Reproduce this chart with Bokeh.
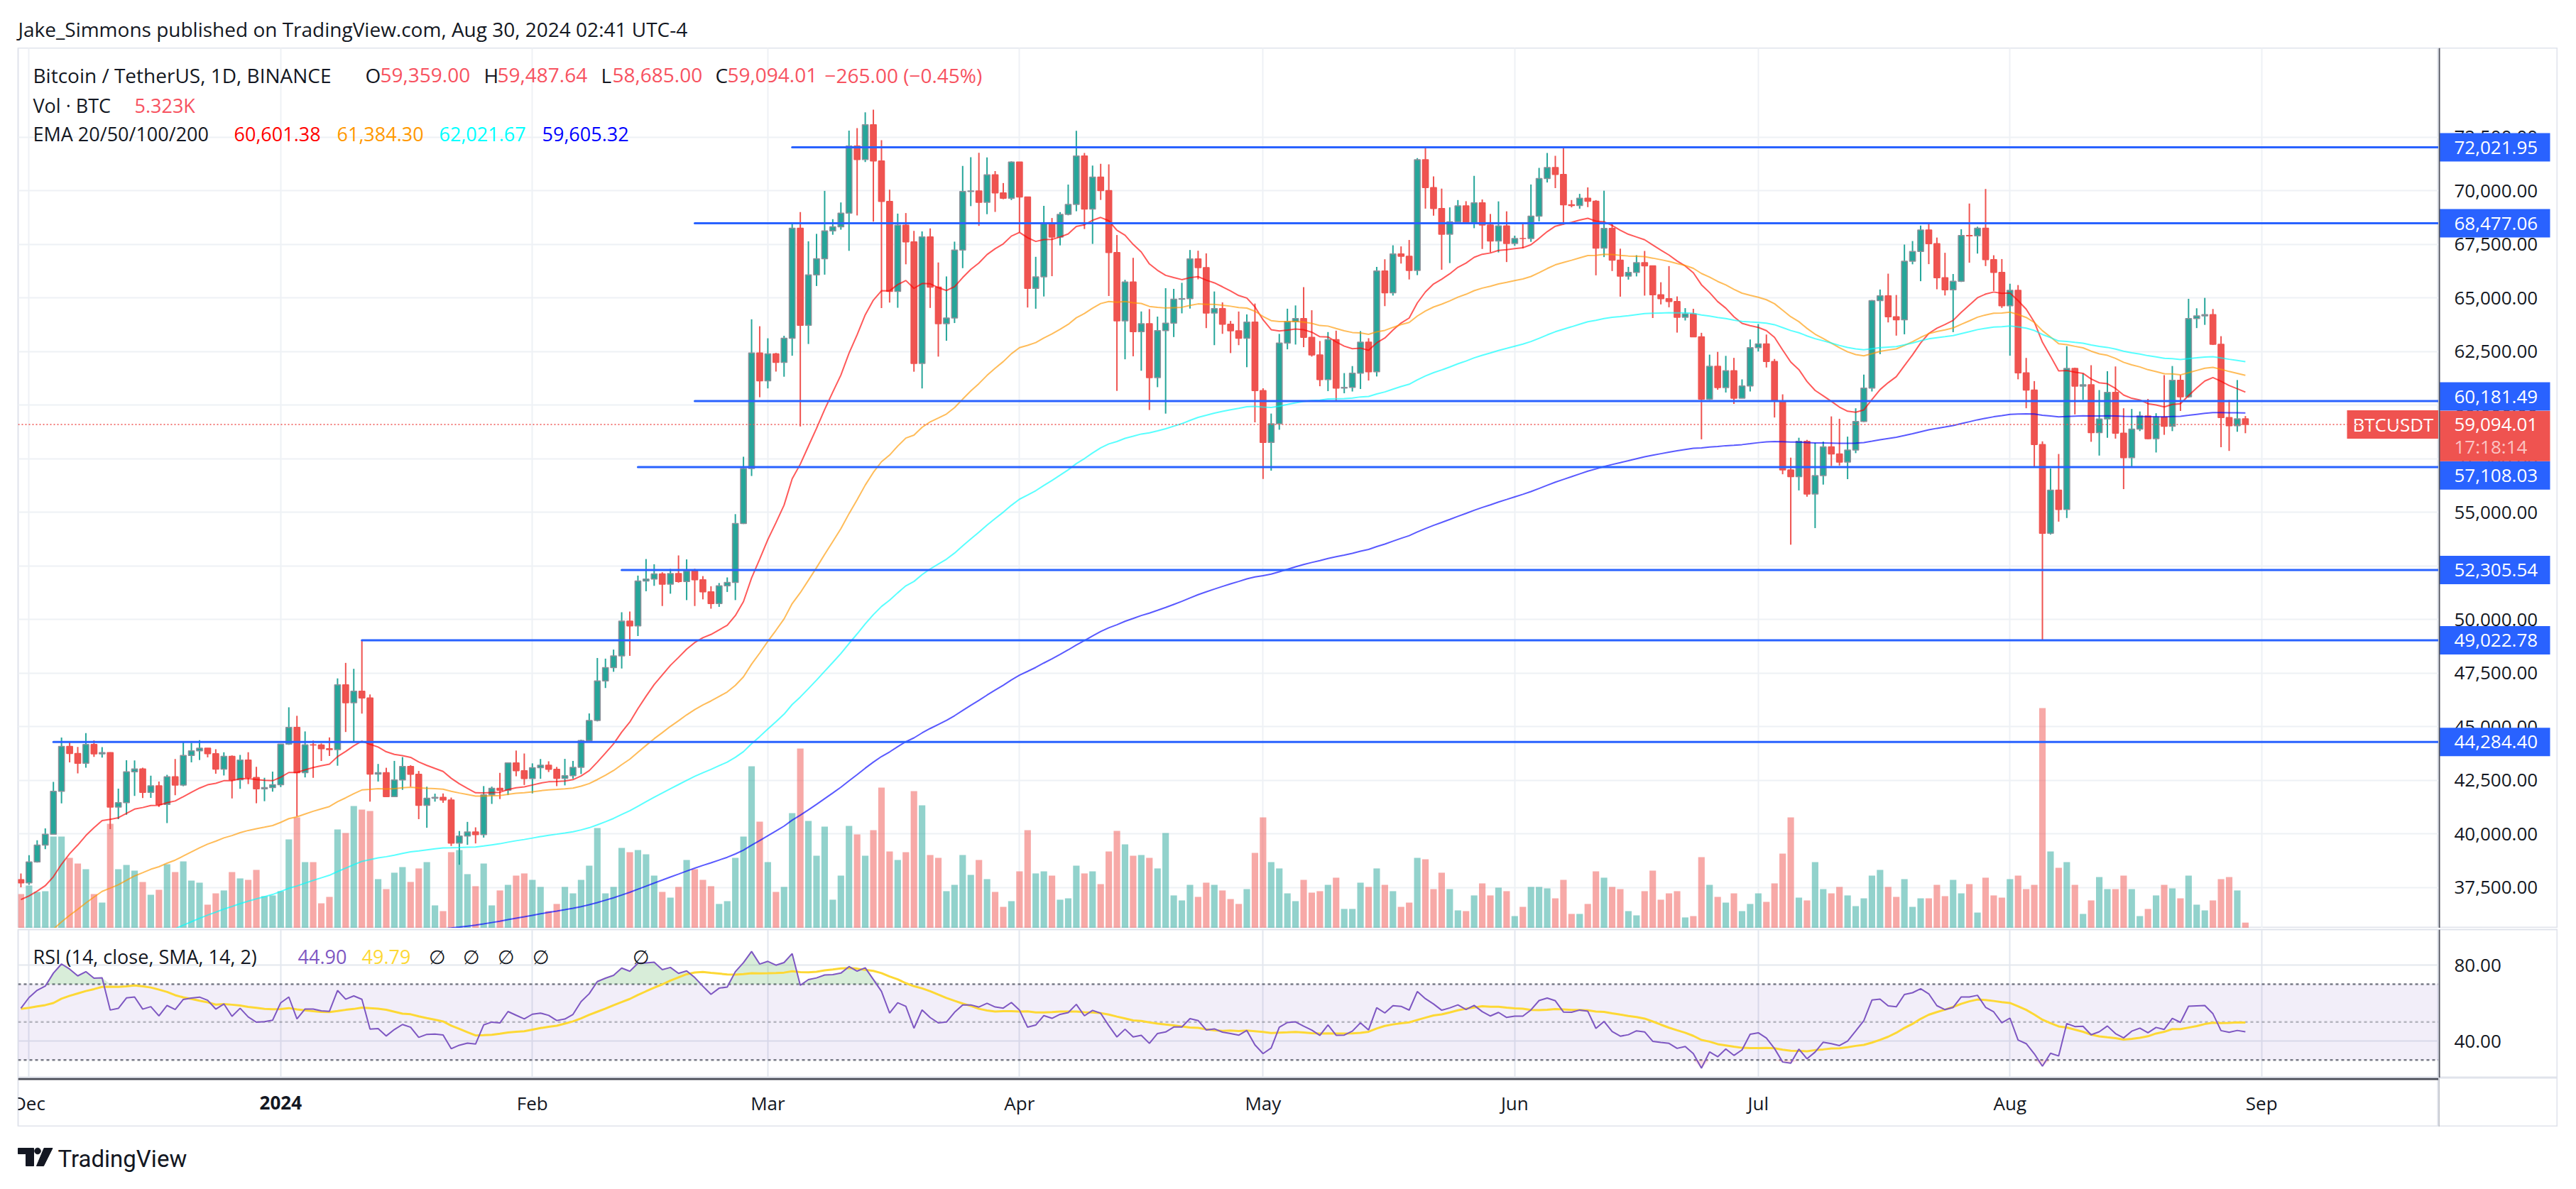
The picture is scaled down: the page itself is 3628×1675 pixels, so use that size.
import numpy as np
import pandas as pd
from bokeh.plotting import figure
from bokeh.models import (Range1d, FixedTicker, Label, Span, BoxAnnotation, ColumnDataSource)
from bokeh.layouts import column, row
from bokeh.embed import file_html
from bokeh.resources import INLINE
from bokeh.core.properties import value

# ----------------------------------------------------------------- data
first_date = "2023-11-30"
first_open = 37858.0

# closes 2023-11-01 .. 2023-11-29 (only used to warm up the indicators)
warmup_closes = [35421, 34941, 34720, 35077, 35048, 35044, 35419, 35625, 36702, 37311,
                 37131, 37064, 36462, 35552, 37858, 36164, 36596, 36568, 37360, 37448,
                 35756, 37420, 37289, 37721, 37796, 37479, 37254, 37832, 37858]

close = (
    [37712] +
    # Dec
    [38688, 39476, 39978, 41980, 44080, 43746, 43293, 44166, 43726, 43790, 41243, 41450, 42890,
     43023, 41929, 42240, 41365, 42658, 42271, 43652, 43869, 43997, 43739, 43016, 43613, 42520,
     43442, 42627, 42099, 42156, 42284] +
    # Jan
    [44180, 44965, 42849, 44151, 44145, 43968, 43929, 46951, 46110, 46653, 46339, 42782, 42847,
     41732, 42511, 43137, 42776, 41327, 41660, 41696, 41580, 39568, 39898, 40084, 39962, 41816,
     42120, 42031, 43302, 42941, 42580] +
    # Feb
    [43082, 43200, 43011, 42582, 42708, 43098, 44349, 45288, 47132, 47751, 48299, 49917, 49699,
     51795, 51880, 52124, 51642, 52138, 51765, 52258, 51849, 51289, 50744, 51569, 51729, 54477,
     57038, 62432, 61130] +
    # Mar
    [62387, 61987, 63113, 68245, 63724, 66074, 66823, 68124, 68313, 68956, 72078, 71452, 73072,
     71388, 69499, 65300, 68393, 67610, 61937, 67840, 65501, 63797, 64062, 67234, 69958, 69987,
     69455, 70744, 69892, 69645, 71333] +
    # Apr
    [69702, 65446, 65980, 68508, 67837, 68896, 69360, 71620, 69146, 70631, 70006, 67117, 63924,
     65739, 63420, 63793, 61277, 63470, 63818, 64941, 64960, 66819, 66414, 64289, 64499, 63770,
     63462, 63118, 63866, 60672] +
    # May
    [58254, 59123, 62889, 63891, 64031, 63161, 62334, 61187, 63049, 60793, 60825, 61484, 62936,
     61552, 66256, 65232, 67051, 66940, 66278, 71446, 70148, 69167, 67969, 68549, 69291, 68507,
     69436, 68398, 67652, 68352, 67540] +
    # Jun
    [67766, 67765, 68809, 70567, 71083, 70757, 69342, 69306, 69648, 69509, 67319, 68243, 66756,
     66012, 66191, 66639, 66491, 65140, 64960, 64828, 64096, 64252, 63180, 60277, 61804, 60811,
     61604, 60320, 60887, 62678] +
    # Jul
    [62851, 62029, 60173, 56977, 56662, 58303, 55849, 56705, 58050, 57720, 57340, 57900, 59231,
     60787, 64870, 65097, 64118, 63974, 66710, 67164, 68165, 67532, 65936, 65372, 65777, 67907,
     67896, 68249, 66784, 66188, 64628] +
    # Aug
    [65354, 61498, 60697, 58161, 54018, 56030, 55128, 61710, 60881, 60945, 58713, 59346, 60587,
     58683, 57541, 58874, 59491, 58427, 59438, 59013, 61157, 60381, 64037, 64157, 64220, 62834,
     59415, 59034, 59359, 59094.01]
)

high = (
    [38150] +
    [38999, 39700, 40250, 42420, 44488, 44300, 44050, 44700, 44358, 44040, 43801, 42104, 43434,
     43420, 43085, 42706, 42436, 42749, 43488, 44276, 44240, 44367, 43999, 43945, 43802, 43655,
     43677, 43804, 43124, 42612, 42899] +
    [44184, 45900, 45503, 44775, 44350, 44214, 44495, 47248, 47972, 47695, 49048, 46500, 43257,
     43079, 43400, 43578, 43198, 42930, 42196, 41872, 41881, 41689, 40129, 40555, 40300, 42225,
     42200, 42842, 43305, 43882, 43745] +
    [43285, 43488, 43381, 43119, 43494, 43399, 44389, 45614, 48200, 48170, 48592, 50334, 50368,
     52043, 52816, 52572, 52200, 52356, 52985, 52800, 52366, 52020, 51548, 51698, 51958, 54910,
     57588, 64000, 63676] +
    [63114, 62433, 63230, 68499, 69000, 67637, 67985, 69990, 68670, 69450, 72800, 72916, 73650,
     73777, 72358, 70046, 68930, 68956, 68124, 68100, 68240, 66650, 65999, 67622, 71150, 71561,
     71769, 71552, 70916, 70355, 71366] +
    [71338, 69708, 66914, 69291, 68725, 69000, 70284, 72797, 71758, 71172, 71256, 71227, 67931,
     65840, 66867, 64365, 64475, 64125, 65450, 65419, 65700, 67233, 67199, 67075, 65297, 64789,
     63923, 64362, 64228, 64734] +
    [60780, 59602, 63320, 64494, 64646, 65500, 64422, 62986, 63404, 63469, 61490, 61818, 63450,
     63118, 66444, 66800, 67451, 67400, 67700, 71515, 71980, 70666, 70096, 69220, 69562, 69509,
     70687, 69591, 68913, 69500, 69036] +
    [67900, 68450, 70288, 71063, 71758, 71625, 71997, 69563, 69850, 70152, 69560, 69999, 68449,
     67294, 66445, 66990, 67188, 66500, 65727, 66482, 65066, 64520, 64491, 63369, 62350, 62480,
     62293, 62200, 61197, 63058] +
    [63777, 63289, 62148, 60499, 57546, 58475, 58376, 58236, 58296, 59470, 59359, 58526, 59850,
     61420, 64900, 65388, 66128, 65133, 67487, 67650, 68372, 68480, 67813, 67102, 66112, 68200,
     69399, 68318, 70079, 66987, 66810] +
    [65659, 65596, 62198, 61117, 58305, 57040, 57717, 62745, 61745, 61470, 61858, 60699, 61578,
     61800, 59849, 59817, 59700, 60284, 59617, 61396, 61820, 61400, 64955, 64513, 64999, 64480,
     63212, 60235, 61166, 59487.64]
)

low = (
    [37500] +
    [37615, 38650, 39280, 39978, 41420, 43330, 42821, 43081, 43584, 43554, 40222, 40680, 40889,
     41767, 41666, 41676, 41250, 40500, 41800, 42219, 43333, 43441, 43566, 42802, 42720, 41649,
     42098, 42318, 41424, 41520, 41965] +
    [42180, 44148, 40813, 42630, 42610, 43397, 43630, 43175, 44748, 44300, 45606, 41500, 42436,
     41720, 41718, 42050, 42200, 40683, 40280, 41500, 41446, 39431, 38555, 39484, 39550, 39823,
     41394, 41620, 41804, 42683, 42276] +
    [41884, 42566, 42880, 42222, 42258, 42574, 42788, 44331, 45242, 46800, 47557, 47710, 48300,
     49225, 51314, 51566, 50625, 51200, 51715, 50900, 50625, 50935, 50500, 50585, 51280, 50901,
     54450, 56690, 60364] +
    [60777, 61561, 61321, 62300, 59005, 62848, 65553, 66082, 67944, 68180, 67194, 68845, 71334,
     68555, 64524, 64780, 64538, 66565, 61555, 60775, 64529, 62260, 63000, 63825, 66385, 69280,
     68359, 68903, 69009, 69601, 69562] +
    [68062, 64550, 64493, 65064, 66011, 67447, 68851, 69040, 68210, 67518, 69567, 65086, 60660,
     62134, 62274, 61600, 59768, 60833, 59600, 63172, 64277, 64500, 65864, 63589, 62794, 63322,
     62424, 62793, 61765, 59191] +
    [56552, 56937, 58848, 62599, 62822, 62700, 62261, 60877, 60648, 60187, 60550, 60632, 60749,
     61143, 61333, 64614, 65107, 66600, 65858, 66060, 69162, 68833, 66312, 66622, 68515, 68488,
     68250, 67280, 67120, 67118, 66670] +
    [67428, 67315, 67612, 68567, 70383, 70119, 68420, 69222, 69160, 69232, 66051, 66902, 66251,
     65056, 65850, 66000, 65104, 64060, 64694, 64560, 63379, 63944, 63180, 58402, 60239, 60712,
     60585, 60052, 60361, 60632] +
    [62495, 61752, 59419, 56771, 53485, 56018, 55723, 54260, 56289, 57157, 57178, 56542, 57756,
     59208, 60632, 62373, 63854, 63238, 63300, 66565, 65777, 66573, 65400, 65111, 63400, 65738,
     66640, 67066, 66482, 65323, 64530] +
    [62302, 61200, 59850, 57122, 49000, 53962, 54561, 54730, 59562, 60242, 58286, 57642, 58472,
     58433, 56078, 57098, 58785, 58408, 57787, 58610, 58783, 59724, 60342, 63590, 63740, 62800,
     58034, 57860, 58753, 58685.00]
)

# volume, thousands of BTC
volume_k = (
    [32.8] +
    [41.0, 34.9, 35.6, 88.2, 88.2, 67.7, 62.2, 56.8, 32.8, 24.6, 100.5, 56.8, 60.9, 55.4, 44.5,
     32.1, 36.9, 61.6, 54.0, 64.3, 45.8, 43.8, 22.6, 33.5, 36.3, 54.0, 47.9, 46.5, 56.1, 30.8, 31.5] +
    [35.6, 85.5, 106.7, 63.6, 63.6, 23.9, 30.1, 95.1, 91.7, 117.6, 114.2, 112.9, 47.2, 37.6, 53.4,
     58.8, 44.5, 57.5, 63.6, 21.9, 16.4, 73.2, 75.2, 52.0, 40.4, 62.2, 21.9, 36.3, 41.7, 50.6, 52.7] +
    [46.5, 39.7, 16.4, 23.3, 39.7, 33.5, 46.5, 60.2, 96.4, 33.5, 39.7, 77.3, 73.2, 75.2, 71.1,
     50.6, 34.9, 29.4, 39.7, 65.7, 56.8, 46.5, 40.4, 23.3, 26.0, 67.7, 88.2, 156.0, 102.6] +
    [63.6, 34.9, 39.7, 110.8, 173.1, 103.3, 69.8, 97.8, 27.4, 50.6, 98.5, 90.3, 69.8, 94.4, 135.4,
     73.9, 65.7, 73.2, 132.0, 118.3, 70.5, 67.7, 35.6, 41.7, 70.5, 51.3, 65.7, 47.2, 34.9, 20.5, 26.0] +
    [54.7, 94.4, 52.7, 54.7, 50.6, 27.4, 28.7, 60.2, 52.7, 54.7, 42.4, 73.9, 93.7, 80.7, 69.8,
     70.5, 67.7, 57.5, 91.7, 31.5, 26.7, 41.7, 30.1, 43.8, 41.7, 36.3, 28.0, 23.3, 37.6, 72.5] +
    [106.7, 63.6, 57.5, 33.5, 26.0, 46.5, 34.2, 35.6, 41.7, 48.6, 18.5, 18.5, 43.8, 39.7, 57.5,
     41.7, 35.6, 20.5, 24.6, 67.7, 66.3, 37.6, 53.4, 37.6, 17.1, 16.4, 31.5, 43.1, 31.5, 39.0, 35.6] +
    [11.6, 20.5, 39.7, 39.7, 38.3, 28.7, 46.5, 13.7, 13.7, 23.3, 54.7, 48.6, 39.7, 37.6, 16.4,
     12.3, 35.6, 55.4, 27.4, 33.5, 35.6, 10.3, 11.6, 68.4, 41.7, 30.1, 24.6, 33.5, 16.4, 23.3] +
    [33.5, 25.3, 43.1, 71.8, 106.7, 29.4, 26.7, 63.6, 37.6, 33.5, 39.7, 31.5, 21.2, 28.7, 50.6,
     56.1, 39.7, 30.1, 47.2, 20.5, 28.7, 28.7, 41.7, 30.8, 46.5, 33.5, 42.4, 15.0, 48.6, 31.5, 29.4] +
    [47.2, 50.6, 37.6, 41.7, 212.0, 73.9, 58.1, 63.6, 41.7, 13.7, 26.7, 49.2, 37.6, 37.6, 50.6,
     37.6, 11.6, 18.5, 31.5, 41.7, 38.3, 28.7, 50.6, 22.6, 17.1, 26.7, 47.2, 49.2, 36.3, 5.323]
)

ema_periods = [20, 50, 100, 200]
ema_seeds = [32000, 29900, 29000, 28300]          # EMA values on 2023-10-31 (warm-up start)
ema_colors = ["#ff0000", "#ff9800", "#00ffff", "#0000ff"]
ema_legend = ["60,601.38", "61,384.30", "62,021.67", "59,605.32"]

level_prices = [72021.95, 68477.06, 60181.49, 57108.03, 52305.54, 49022.78, 44284.40]
level_labels = ["72,021.95", "68,477.06", "60,181.49", "57,108.03", "52,305.54", "49,022.78", "44,284.40"]
level_starts = ["2024-03-04", "2024-02-21", "2024-02-21", "2024-02-14", "2024-02-12",
                "2024-01-11", "2023-12-04"]

price_ticks = [37500, 40000, 42500, 45000, 47500, 50000, 52500, 55000, 57500, 60000,
               62500, 65000, 67500, 70000, 72500]
rsi_ticks = [40, 80]
month_starts = ["2023-12-01", "2024-01-01", "2024-02-01", "2024-03-01", "2024-04-01",
                "2024-05-01", "2024-06-01", "2024-07-01", "2024-08-01", "2024-09-01"]
month_labels = ["Dec", "2024", "Feb", "Mar", "Apr", "May", "Jun", "Jul", "Aug", "Sep"]

last_price = 59094.01
last_price_text = "59,094.01"
countdown_text = "17:18:14"
rsi_legend_values = ["44.90", "49.79"]

# ----------------------------------------------------------------- derived series
DAY = 86400000.0
def to_ms(s):
    return pd.to_datetime(s).values.astype("datetime64[ms]").astype("int64").astype(float)

c = np.array(close, float)
h = np.array(high, float)
l = np.array(low, float)
o = np.concatenate([[first_open], c[:-1]])
xs = to_ms(pd.date_range(first_date, periods=len(c), freq="D"))
up = c >= o

allc = np.concatenate([np.array(warmup_closes, float), c])

def ema(vals, n, seed):
    a = 2.0 / (n + 1)
    out = np.empty(len(vals))
    v = seed
    for i, val in enumerate(vals):
        v = a * val + (1 - a) * v
        out[i] = v
    return out

emas = [ema(allc, n, s)[-len(c):] for n, s in zip(ema_periods, ema_seeds)]

def rma(v, n):
    out = np.full(len(v), np.nan)
    out[n - 1] = v[:n].mean()
    for i in range(n, len(v)):
        out[i] = (out[i - 1] * (n - 1) + v[i]) / n
    return out

dlt = np.diff(allc)
ag = rma(np.where(dlt > 0, dlt, 0.0), 14)
al = rma(np.where(dlt < 0, -dlt, 0.0), 14)
rsi_all = 100 - 100 / (1 + ag / al)
rsi_sma_all = pd.Series(rsi_all).rolling(14).mean().values
rsi = rsi_all[-len(c):]
rsi_sma = rsi_sma_all[-len(c):]

# ----------------------------------------------------------------- layout (page pixels)
UP, DOWN = "#26a69a", "#ef5350"
DARK = "#131722"
GRID = "#eef1f5"
BORDER = "#e0e3eb"
SEP = "#50535e"
TAG = "#2962ff"
FONT = "Open Sans"
FRAME_L = 25                       # page x of the panes' left edge
AXIS_X = 3434                      # page x of the price-scale separator
SCALE_W = 168                      # width of the price scale
HEAD_H = 67
MAIN_TOP, MAIN_BOT = 67, 1307
RSI_TOP, RSI_BOT = 1309, 1518
TIME_BOT = 1587
FOOT_H = 80
PAGE_W = AXIS_X + SCALE_W

month_ms = to_ms(month_starts)
t_dec1 = to_ms(["2023-12-01"])[0]
xr = Range1d(t_dec1 - 1.347 * DAY, t_dec1 + 296.8 * DAY)
yr_price = Range1d(35599, 76659)
yr_rsi = Range1d(20.51, 98.87)
px_per_price = (MAIN_BOT - MAIN_TOP) / (yr_price.end - yr_price.start)

def px_to_x(X):
    return xr.start + (X - FRAME_L) * (xr.end - xr.start) / (AXIS_X - FRAME_L)

def blank(fig):
    fig.grid.grid_line_color = None
    return fig

def add_text(fig, frame_left, frame_bottom, X, Y, text, size, color=DARK, style="normal", align="left"):
    fig.add_layout(Label(x=X - frame_left, y=frame_bottom - Y, x_units="screen", y_units="screen",
                         text=text, text_font=FONT, text_font_size=f"{size}px", text_color=color,
                         text_font_style=style, text_baseline="middle", text_align=align))

# ----------------------------------------------------------------- header
hd = blank(figure(width=PAGE_W, height=HEAD_H, x_range=Range1d(0, PAGE_W), y_range=Range1d(0, HEAD_H),
                  output_backend="svg", toolbar_location=None, x_axis_location=None,
                  y_axis_location=None, min_border=0, outline_line_color=None))
hd.text(x=[25], y=[HEAD_H - 40], text=["Jake_Simmons published on TradingView.com, Aug 30, 2024 02:41 UTC-4"],
        text_font=value(FONT), text_font_size=value("28px"), text_color=DARK, text_baseline="middle")

# ----------------------------------------------------------------- main price pane
p = figure(width=AXIS_X, height=MAIN_BOT - MAIN_TOP, x_range=xr, y_range=yr_price,
           output_backend="svg", toolbar_location=None, x_axis_location=None, y_axis_location=None,
           min_border_left=FRAME_L, min_border_right=0, min_border_top=0, min_border_bottom=0,
           outline_line_color=BORDER, outline_line_width=2)
p.xgrid.ticker = FixedTicker(ticks=list(month_ms))
p.ygrid.ticker = FixedTicker(ticks=price_ticks)
p.grid.grid_line_color = GRID
p.grid.grid_line_width = 2

src = ColumnDataSource(dict(
    x=xs, top=np.maximum(o, c), bot=np.minimum(o, c),
    hi=np.maximum(h, np.maximum(o, c)), lo=np.minimum(l, np.minimum(o, c)),
    body=np.where(up, UP, DOWN), border=np.where(up, "#8d9099", DOWN),
    wick=np.where(up, UP, DOWN), vol=np.array(volume_k, float)))

p.extra_y_ranges = {"vol": Range1d(0, 848)}
p.vbar(x="x", width=0.8 * DAY, top="vol", bottom=0, y_range_name="vol", source=src,
       fill_color="wick", line_color=None, fill_alpha=0.5)
p.segment(x0="x", y0="hi", x1="x", y1="lo", source=src, line_color="wick", line_width=2)
p.vbar(x="x", width=0.72 * DAY, top="top", bottom="bot", source=src,
       fill_color="body", line_color="border", line_width=1.5)

for series, col in zip(emas, ema_colors):
    p.line(xs, series, line_color=col, line_alpha=0.65, line_width=2)

p.ray(x=list(to_ms(level_starts)), y=level_prices, length=0, angle=0,
      line_color=TAG, line_width=3, line_cap="round")

p.add_layout(Span(location=last_price, dimension="width", line_color=DOWN,
                  line_dash="2 3", line_width=1.5))
# symbol tag at the right end of the last-price line
p.rect(x=[px_to_x((3305 + AXIS_X) / 2)], y=[last_price], width=AXIS_X - 3305, height=40,
       width_units="screen", height_units="screen", fill_color=DOWN, line_color=None)
p.text(x=[px_to_x(3313)], y=[last_price], text=["BTCUSDT"], text_font=value(FONT),
       text_font_size=value("26px"), text_color="white", text_baseline="middle")

# legend rows
add_text(p, FRAME_L, MAIN_BOT, 46, 105, "Bitcoin / TetherUS, 1D, BINANCE", 28)
for X, lab, X2, val in [(514, "O", 535, "59,359.00"), (681, "H", 700, "59,487.64"),
                        (846, "L", 862, "58,685.00"), (1007, "C", 1024, "59,094.01")]:
    add_text(p, FRAME_L, MAIN_BOT, X, 105, lab, 28)
    add_text(p, FRAME_L, MAIN_BOT, X2, 105, val, 28, color="#f7525f")
add_text(p, FRAME_L, MAIN_BOT, 1161, 105, "\u2212265.00 (\u22120.45%)", 28, color="#f7525f")
add_text(p, FRAME_L, MAIN_BOT, 46, 148, "Vol \u00b7 BTC", 27)
add_text(p, FRAME_L, MAIN_BOT, 189, 148, "5.323K", 27, color="#f7525f")
add_text(p, FRAME_L, MAIN_BOT, 46, 188, "EMA 20/50/100/200", 27)
for X, txt, col in zip([329, 474, 618, 763], ema_legend, ema_colors):
    add_text(p, FRAME_L, MAIN_BOT, X, 188, txt, 27, color=col)

# ----------------------------------------------------------------- price scale
ps = blank(figure(width=SCALE_W, height=MAIN_BOT - MAIN_TOP, x_range=Range1d(0, SCALE_W),
                  y_range=yr_price, output_backend="svg", toolbar_location=None,
                  x_axis_location=None, y_axis_location=None, min_border=0,
                  outline_line_color=BORDER, outline_line_width=2))
ps.text(x=[22] * len(price_ticks), y=price_ticks, text=[f"{t:,.2f}" for t in price_ticks],
        text_font=value(FONT), text_font_size=value("26px"), text_color=DARK, text_baseline="middle")
ps.add_layout(Span(location=1, dimension="height", line_color=SEP, line_width=2))

# level tags (pixel shifts where the scale pushes overlapping tags apart)
tag_shift_px = [0, 0, 6.6, -11.8, 0, 0, 0]
tag_y = [pr + dy / px_per_price for pr, dy in zip(level_prices, tag_shift_px)]
ps.rect(x=[79] * len(tag_y), y=tag_y, width=156, height=40, height_units="screen",
        fill_color=TAG, line_color=None)
ps.text(x=[22] * len(tag_y), y=tag_y, text=level_labels, text_font=value(FONT),
        text_font_size=value("26px"), text_color="white", text_baseline="middle")
# last price tag with countdown
ps.rect(x=[79], y=[last_price - 16.4 / px_per_price], width=156, height=71, height_units="screen",
        fill_color=DOWN, line_color=None)
ps.text(x=[22], y=[last_price], text=[last_price_text], text_font=value(FONT),
        text_font_size=value("26px"), text_color="white", text_baseline="middle")
ps.text(x=[22], y=[last_price - 31.2 / px_per_price], text=[countdown_text], text_font=value(FONT),
        text_font_size=value("26px"), text_color="#fbc4c3", text_baseline="middle")

# ----------------------------------------------------------------- RSI pane
r = figure(width=AXIS_X, height=RSI_BOT - MAIN_BOT, x_range=xr, y_range=yr_rsi,
           output_backend="svg", toolbar_location=None, x_axis_location=None, y_axis_location=None,
           min_border_left=FRAME_L, min_border_right=0, min_border_top=RSI_TOP - MAIN_BOT,
           min_border_bottom=0, outline_line_color=BORDER, outline_line_width=2)
r.xgrid.ticker = FixedTicker(ticks=list(month_ms))
r.ygrid.ticker = FixedTicker(ticks=rsi_ticks)
r.grid.grid_line_color = "#e3e7ee"
r.grid.grid_line_width = 2

r.add_layout(BoxAnnotation(bottom=30, top=70, fill_color="#7e57c2", fill_alpha=0.1,
                           line_color=None, level="underlay"))
for lvl, alpha in [(70, 1.0), (30, 1.0), (50, 0.5)]:
    r.add_layout(Span(location=lvl, dimension="width", line_color="#787b86", line_alpha=alpha,
                      line_dash="4 4", line_width=2.5, level="underlay"))
r.varea(x=xs, y1=np.full(len(xs), 70.0), y2=np.maximum(rsi, 70), fill_color="#4caf50", fill_alpha=0.22)
r.varea(x=xs, y1=np.minimum(rsi, 30), y2=np.full(len(xs), 30.0), fill_color="#f23645", fill_alpha=0.15)
r.line(xs, rsi_sma, line_color="#fdd835", line_width=3)
r.line(xs, rsi, line_color="#7e57c2", line_width=2)

add_text(r, FRAME_L, RSI_BOT, 46, 1347, "RSI (14, close, SMA, 14, 2)", 27)
add_text(r, FRAME_L, RSI_BOT, 419, 1347, rsi_legend_values[0], 27, color="#7e57c2")
add_text(r, FRAME_L, RSI_BOT, 509, 1347, rsi_legend_values[1], 27, color="#fdd835")
for X in [603, 651, 700, 749, 890]:
    add_text(r, FRAME_L, RSI_BOT, X, 1347, "\u2205", 27)

rs = blank(figure(width=SCALE_W, height=RSI_BOT - MAIN_BOT, x_range=Range1d(0, SCALE_W),
                  y_range=yr_rsi, output_backend="svg", toolbar_location=None,
                  x_axis_location=None, y_axis_location=None, min_border=0,
                  min_border_top=RSI_TOP - MAIN_BOT, outline_line_color=BORDER, outline_line_width=2))
rs.text(x=[22] * len(rsi_ticks), y=rsi_ticks, text=[f"{t:.2f}" for t in rsi_ticks],
        text_font=value(FONT), text_font_size=value("26px"), text_color=DARK, text_baseline="middle")
rs.add_layout(Span(location=1, dimension="height", line_color=SEP, line_width=2))

# ----------------------------------------------------------------- time scale
TIME_H = TIME_BOT - RSI_BOT
ts = blank(figure(width=AXIS_X, height=TIME_H, x_range=xr, y_range=Range1d(0, TIME_H),
                  output_backend="svg", toolbar_location=None, x_axis_location=None,
                  y_axis_location=None, min_border_left=FRAME_L, min_border_right=0,
                  min_border_top=0, min_border_bottom=0, outline_line_color=BORDER,
                  outline_line_width=2))
ts.add_layout(Span(location=TIME_H - 1.5, dimension="width", line_color="#4a4d57", line_width=3))
ts.text(x=list(month_ms), y=[TIME_BOT - 1553] * len(month_ms), text=month_labels,
        text_font=value(FONT), text_font_size=value("26px"), text_color=DARK,
        text_font_style=["bold" if m.isdigit() else "normal" for m in month_labels],
        text_align="center", text_baseline="middle")

tsr = blank(figure(width=SCALE_W, height=TIME_H, x_range=Range1d(0, SCALE_W), y_range=Range1d(0, TIME_H),
                   output_backend="svg", toolbar_location=None, x_axis_location=None,
                   y_axis_location=None, min_border=0, outline_line_color=BORDER, outline_line_width=2))
tsr.add_layout(Span(location=0.5, dimension="height", line_color="#9598a1", line_width=1))

# ----------------------------------------------------------------- footer (logo)
f = blank(figure(width=PAGE_W, height=FOOT_H, x_range=Range1d(0, PAGE_W), y_range=Range1d(0, FOOT_H),
                 output_backend="svg", toolbar_location=None, x_axis_location=None,
                 y_axis_location=None, min_border=0, outline_line_color=None))
top = TIME_BOT + FOOT_H
f.patch(x=[25, 47, 47, 36, 36, 25],
        y=[top - 1617, top - 1617, top - 1642, top - 1642, top - 1625, top - 1625], color=DARK)
f.circle(x=[52.5], y=[top - 1621], radius=4.3, color=DARK)
f.patch(x=[61.5, 73.5, 61, 51], y=[top - 1617, top - 1617, top - 1642, top - 1642], color=DARK)
f.text(x=[81], y=[top - 1632], text=["TradingView"], text_font=value("Roboto"),
       text_font_size=value("33px"), text_color=DARK, text_baseline="middle")

layout = column(hd, row(p, ps), row(r, rs), row(ts, tsr), f)
open("out.html", "w").write(file_html(layout, INLINE, title="BTCUSDT"))
